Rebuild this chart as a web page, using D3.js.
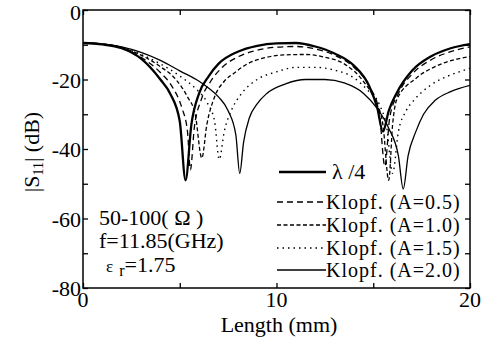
<!DOCTYPE html>
<html>
<head>
<meta charset="utf-8">
<script src="https://cdn.jsdelivr.net/npm/d3@7"></script>
<style>
  html, body { margin: 0; padding: 0; background: #fff; }
  text, tspan { font-family: 'Liberation Serif', serif; }
</style>
</head>
<body>
<script>
// |S11| vs transformer length: quarter-wave vs Klopfenstein tapers.
// Values (length in mm, |S11| in dB).

const lengthQW = [0, 1, 2, 3, 4, 4.5, 5.0, 5.3, 5.6, 6.0, 6.5, 7.0, 8, 9, 10, 11, 12, 13, 14, 14.8, 15.2, 15.5, 15.8, 16.2, 17, 18, 19, 20];
const s11QW    = [-9.5, -9.9, -11, -14, -20, -24, -32, -49, -33, -24, -19, -15.5, -12, -10.3, -9.6, -9.5, -10.5, -12.5, -16, -22, -28, -35, -29, -24, -17.5, -13.3, -11, -9.8];

const lengthA05 = [0, 1, 2, 3, 4, 4.6, 5.1, 5.4, 5.55, 5.75, 6.1, 6.6, 7.2, 8, 9, 10, 11, 12, 13, 14, 14.8, 15.3, 15.6, 15.85, 16.3, 17, 18, 19, 20];
const s11A05    = [-9.5, -9.8, -10.9, -13.6, -18, -22, -28, -35, -46, -34, -26, -20.5, -16.5, -13.5, -11.6, -10.7, -10.5, -11.2, -13, -16.5, -22, -29, -45, -31, -24, -18.5, -14.3, -12, -10.6];

const lengthA10 = [0, 1, 2, 3, 4, 4.8, 5.4, 5.8, 6.14, 6.4, 6.8, 7.3, 7.8, 8.5, 9.5, 10.5, 11.5, 12.5, 13.5, 14.5, 15.1, 15.5, 15.8, 16.0, 16.2, 17.2, 18.4, 20];
const s11A10    = [-9.5, -9.8, -10.8, -13, -16.3, -20, -25, -30, -42.6, -33, -25, -20.5, -18.2, -15.5, -13.6, -12.9, -12.8, -13.6, -15.5, -20.6, -26, -33, -49, -33, -26, -19.7, -15.8, -13.4];

const lengthA15 = [0, 1, 2, 3, 4, 5, 5.8, 6.4, 6.8, 7.04, 7.3, 7.7, 8.2, 9, 10, 11, 12, 13, 14, 14.7, 15.3, 15.7, 16.0, 16.3, 16.7, 17.1, 18, 19, 20];
const s11A15    = [-9.5, -9.8, -10.8, -12.8, -15.5, -19, -22.5, -26.5, -32, -43, -35, -28.5, -24, -20, -17.8, -16.5, -16.5, -17.3, -19.5, -23, -27, -34, -47, -35, -29, -26, -21.5, -18.7, -16.8];

const lengthA20 = [0, 1, 2, 3, 4, 5, 6, 6.5, 7, 7.5, 7.9, 8.1, 8.3, 8.6, 9, 9.5, 10.5, 11.5, 12.5, 13.5, 14.5, 15.2, 15.8, 16.3, 16.55, 16.8, 17.2, 17.6, 18.2, 19, 20];
const s11A20    = [-9.5, -9.8, -10.6, -12.2, -14.5, -17.5, -20.5, -22.5, -25, -29, -36, -47, -38, -31, -27, -24, -21.2, -20, -20, -21, -24, -28.3, -34, -42, -51.5, -42, -35, -30, -26, -23.5, -21.7];

const seriesNames = ['\u03bb /4', 'Klopf. (A=0.5)', 'Klopf. (A=1.0)', 'Klopf. (A=1.5)', 'Klopf. (A=2.0)'];

const xTicks = [0, 5, 10, 15, 20];
const xTickLabels = [0, 10, 20];
const yTicks = [0, -10, -20, -30, -40, -50, -60, -70, -80];
const yTickLabels = [0, -20, -40, -60, -80];

const W = 501, H = 349;
const M = { left: 83, right: 31, top: 10, bottom: 61 };
const innerW = W - M.left - M.right;
const innerH = H - M.top - M.bottom;
const FS = '22px';

const styles = [
  { width: 2.3, dash: null },
  { width: 1.3, dash: '6,4' },
  { width: 1.3, dash: '4,2.5' },
  { width: 1.4, dash: '1.5,4' },
  { width: 1.3, dash: null },
];

const seriesData = [
  [lengthQW, s11QW], [lengthA05, s11A05], [lengthA10, s11A10], [lengthA15, s11A15], [lengthA20, s11A20],
].map(([xs, ys]) => xs.map((x, i) => ({ x, y: ys[i] })));

const x = d3.scaleLinear().domain([0, 20]).range([0, innerW]);
const y = d3.scaleLinear().domain([-80, 0]).range([innerH, 0]);

const svg = d3.select('body').append('svg')
  .attr('width', W).attr('height', H);

const g = svg.append('g').attr('transform', `translate(${M.left},${M.top})`);

// clip for curves
svg.append('defs').append('clipPath').attr('id', 'clip')
  .append('rect').attr('width', innerW).attr('height', innerH);

const line = d3.line()
  .x(d => x(d.x))
  .y(d => y(d.y))
  .curve(d3.curveMonotoneX);

const curves = g.append('g').attr('clip-path', 'url(#clip)');
seriesData.forEach((d, i) => {
  curves.append('path')
    .datum(d)
    .attr('d', line)
    .attr('fill', 'none')
    .attr('stroke', '#000')
    .attr('stroke-width', styles[i].width)
    .attr('stroke-dasharray', styles[i].dash)
    .attr('stroke-linejoin', 'round');
});

// Axes: inward ticks on all four sides
const tickLen = 5;
const axB = g.append('g').attr('transform', `translate(0,${innerH})`)
  .call(d3.axisBottom(x).tickValues(xTicks).tickSize(-tickLen).tickFormat(''));
const axT = g.append('g')
  .call(d3.axisTop(x).tickValues(xTicks).tickSize(-tickLen).tickFormat(''));
const axL = g.append('g')
  .call(d3.axisLeft(y).tickValues(yTicks).tickSize(-tickLen).tickFormat(''));
const axR = g.append('g').attr('transform', `translate(${innerW},0)`)
  .call(d3.axisRight(y).tickValues(yTicks).tickSize(-tickLen).tickFormat(''));
[axB, axT, axL, axR].forEach(ax => {
  ax.select('.domain').remove();
  ax.selectAll('text').remove();
  ax.selectAll('.tick line').attr('stroke', '#000').attr('stroke-width', 1.3);
});

// frame
g.append('rect')
  .attr('width', innerW).attr('height', innerH)
  .attr('fill', 'none').attr('stroke', '#000').attr('stroke-width', 1.5);

// tick labels
g.selectAll('.xlab').data(xTickLabels).enter().append('text')
  .attr('x', d => x(d)).attr('y', innerH + 19)
  .attr('text-anchor', 'middle')
  .style('font-size', FS)
  .text(d => d);
g.selectAll('.ylab').data(yTickLabels).enter().append('text')
  .attr('x', -2).attr('y', d => Math.max(y(d) + 8, 10))
  .attr('text-anchor', 'end')
  .style('font-size', FS)
  .text(d => d);

// axis titles
svg.append('text')
  .attr('x', 279).attr('y', 332)
  .attr('text-anchor', 'middle')
  .style('font-size', FS)
  .text('Length (mm)');

const yt = svg.append('text')
  .attr('transform', 'translate(39,152) rotate(-90)')
  .attr('text-anchor', 'middle')
  .style('font-size', FS);
yt.append('tspan').text('|S');
yt.append('tspan').style('font-size', '14px').attr('dy', 4).text('11');
yt.append('tspan').attr('dy', -4).text('| (dB)');

// annotation
svg.append('text').attr('x', 99).attr('y', 225)
  .style('font-size', FS).text('50-100( \u03a9 )');
svg.append('text').attr('x', 99).attr('y', 248)
  .style('font-size', FS).text('f=11.85(GHz)');
const eps = svg.append('text').attr('x', 106).attr('y', 272)
  .style('font-size', FS);
eps.append('tspan').style('font-size', '17px').text('\u03b5');
eps.append('tspan').style('font-size', '16px').attr('dx', 6).attr('dy', 4).text('r');
eps.append('tspan').attr('dy', -4).text('=1.75');

// legend
const legendX0 = 277, legendX1 = 326;
const legendY = [172, 202, 225, 248, 270];
seriesNames.forEach((name, i) => {
  svg.append('line')
    .attr('x1', i === 0 ? 279 : legendX0).attr('x2', legendX1)
    .attr('y1', legendY[i]).attr('y2', legendY[i])
    .attr('stroke', '#000')
    .attr('stroke-width', styles[i].width)
    .attr('stroke-dasharray', styles[i].dash);
  svg.append('text')
    .attr('x', i === 0 ? 332 : legendX1)
    .attr('y', legendY[i] + 7)
    .style('font-size', i === 0 ? FS : '20px')
    .style('letter-spacing', i === 0 ? '0px' : '1px')
    .text(name);
});
</script>
</body>
</html>
